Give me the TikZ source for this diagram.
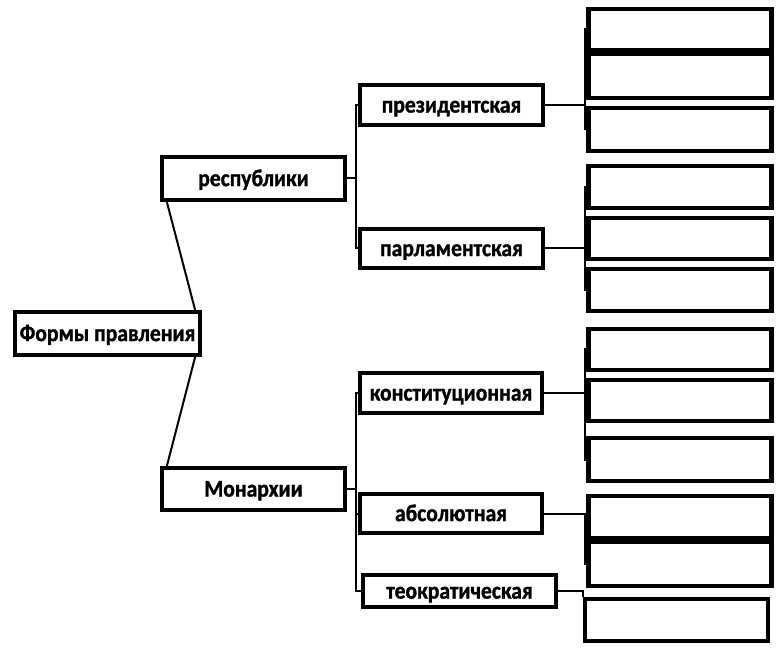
\documentclass[tikz,border=0pt]{standalone}
\usepackage{fontspec}
\newfontfamily\boxfont{Carlito Bold}[FakeStretch=0.9, FakeBold=1.2]
\tikzset{box/.style={draw, line width=4.2pt, fill=white, inner sep=0pt, font=\boxfont\fontsize{24}{27}\selectfont,
    text height=17.6pt, text depth=2.4pt, minimum width=183pt, minimum height=42pt}}
\tikzset{conn/.style={line width=2pt}}

\begin{document}
\begin{tikzpicture}[x=1pt,y=-1pt]
    \useasboundingbox (0,0) rectangle (782,652);
    % levels 0 and 1
    \node[box, minimum width=185pt, minimum height=43pt] (forms) at (107.5,333.5) {Формы правления};
    \node[box, minimum height=43pt] (resp) at (253.5,178.5) {республики};
    \node[box] (mon) at (253.5,489) {Монархии};
    % level 2
    \node[box, minimum height=40pt] (pres) at (451.5,105) {президентская};
    \node[box, minimum height=39pt] (parl) at (451.5,248.5) {парламентская};
    \node[box, minimum width=182pt, minimum height=40pt] (konst) at (451,393) {конституционная};
    \node[box, minimum width=182pt, minimum height=39pt] (abs) at (451,513.5) {абсолютная};
    \node[box, minimum width=193pt, minimum height=32pt] (teo) at (459.5,591) {теократическая};
    % level 3 (empty boxes)
    \node[box, minimum height=41pt] (pres1) at (680,29.5) {};
    \node[box, minimum height=44pt] (pres2) at (680,76) {};
    \node[box, minimum height=43pt] (pres3) at (680,129.5) {};
    \node[box, minimum height=42pt] (parl1) at (680,187) {};
    \node[box, minimum height=41pt] (parl2) at (680,238.5) {};
    \node[box, minimum height=42pt] (parl3) at (680,290) {};
    \node[box, minimum height=41pt] (konst1) at (680,349.5) {};
    \node[box, minimum height=41pt] (konst2) at (680,400.5) {};
    \node[box, minimum height=43pt] (konst3) at (680,459.5) {};
    \node[box, minimum height=42pt] (abs1) at (680,517) {};
    \node[box, minimum height=44pt] (abs2) at (680,564) {};
    \node[box, minimum height=42pt] (teo1) at (676.5,620) {};
    % connectors
    \draw[conn] ([xshift=-7pt]forms.north east) -- ([xshift=7pt]resp.south west);
    \draw[conn] ([xshift=-7pt]forms.south east) -- ([xshift=7pt]mon.north west);
    \foreach \child in {pres,parl}
        \draw[conn] (resp.east) -- ++(9,0) |- (\child.west);
    \foreach \child in {konst,abs,teo}
        \draw[conn] (mon.east) -- ++(9,0) |- (\child.west);
    \foreach \child in {pres1,pres2,pres3}
        \draw[conn] (pres.east) -- ++(40,0) |- (\child.west);
    \foreach \child in {parl1,parl2,parl3}
        \draw[conn] (parl.east) -- ++(40,0) |- (\child.west);
    \foreach \child in {konst1,konst2,konst3}
        \draw[conn] (konst.east) -- ++(41,0) |- (\child.west);
    \foreach \child in {abs1,abs2}
        \draw[conn] (abs.east) -- ++(41,0) |- (\child.west);
    \draw[conn] (teo.east) -| (teo1.north west);
\end{tikzpicture}
\end{document}
